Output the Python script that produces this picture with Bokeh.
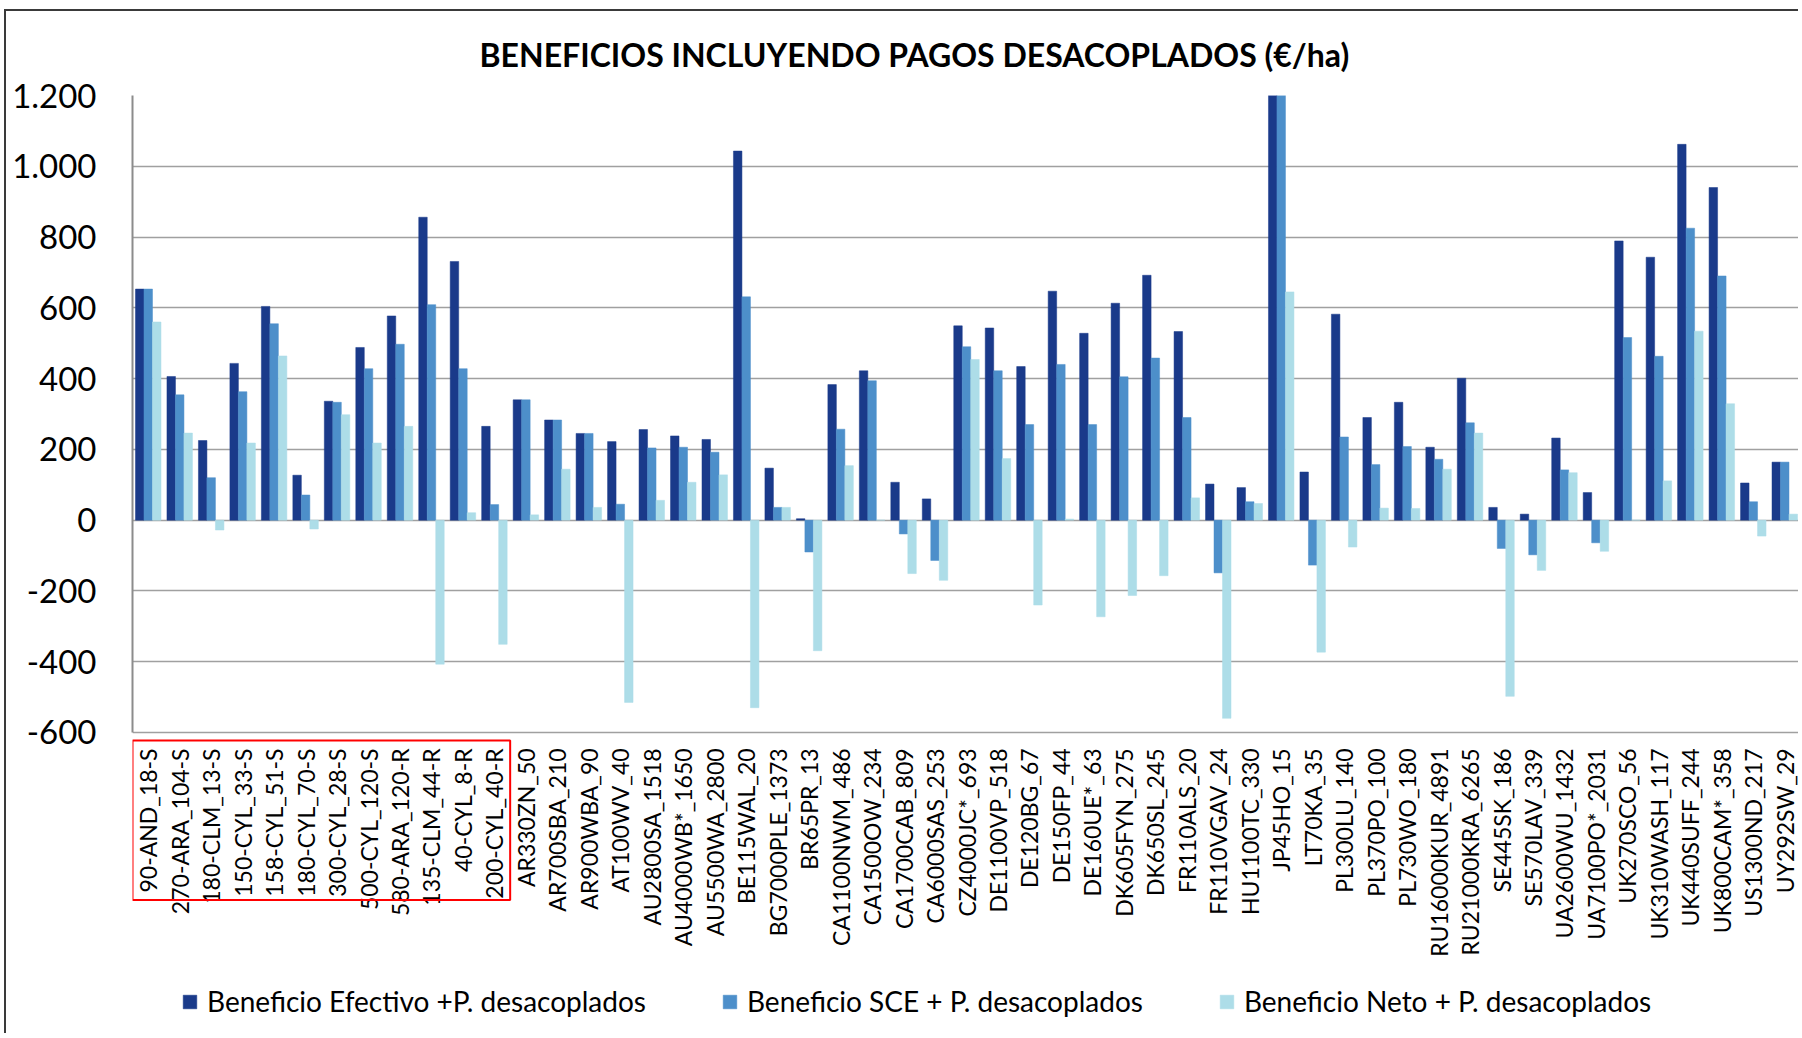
import math
from bokeh.plotting import figure
from bokeh.models import (ColumnDataSource, Range1d, FixedTicker, Legend, LegendItem,
                          BoxAnnotation)
from bokeh.core.properties import value
from bokeh.transform import dodge
from bokeh.embed import file_html
from bokeh.resources import INLINE

explotaciones = [
    "90-AND_18-S", "270-ARA_104-S", "180-CLM_13-S", "150-CYL_33-S", "158-CYL_51-S",
    "180-CYL_70-S", "300-CYL_28-S", "500-CYL_120-S", "580-ARA_120-R", "135-CLM_44-R",
    "40-CYL_8-R", "200-CYL_40-R", "AR330ZN_50", "AR700SBA_210", "AR900WBA_90",
    "AT100WV_40", "AU2800SA_1518", "AU4000WB*_1650", "AU5500WA_2800", "BE115WAL_20",
    "BG7000PLE_1373", "BR65PR_13", "CA1100NWM_486", "CA1500OW_234", "CA1700CAB_809",
    "CA6000SAS_253", "CZ4000JC*_693", "DE1100VP_518", "DE120BG_67", "DE150FP_44",
    "DE160UE*_63", "DK605FYN_275", "DK650SL_245", "FR110ALS_20", "FR110VGAV_24",
    "HU1100TC_330", "JP45HO_15", "LT70KA_35", "PL300LU_140", "PL370PO_100",
    "PL730WO_180", "RU16000KUR_4891", "RU21000KRA_6265", "SE445SK_186", "SE570LAV_339",
    "UA2600WU_1432", "UA7100PO*_2031", "UK270SCO_56", "UK310WASH_117", "UK440SUFF_244",
    "UK800CAM*_358", "US1300ND_217", "UY292SW_29",
]

beneficio_efectivo = [
    653, 406, 225, 443, 604, 127, 336, 488, 577, 856, 731, 265,
    340, 283, 245, 222, 256, 238, 228, 1043, 147, 4, 383, 422, 107, 60,
    549, 543, 434, 647, 528, 613, 692, 533, 102, 92, 1300, 136, 582,
    290, 333, 206, 401, 36, 17, 232, 78, 789, 743, 1062, 940, 105, 164,
]
beneficio_sce = [
    653, 354, 120, 363, 555, 71, 333, 428, 497, 609, 428, 44,
    340, 283, 245, 45, 204, 206, 192, 631, 36, -90, 257, 394, -39, -114,
    490, 422, 270, 440, 270, 405, 458, 290, -149, 52, 1250, -127, 235,
    157, 208, 172, 275, -80, -98, 142, -64, 516, 463, 825, 690, 52, 164,
]
beneficio_neto = [
    560, 246, -28, 218, 464, -25, 298, 218, 265, -407, 21, -351,
    15, 144, 36, -515, 56, 107, 128, -530, 36, -369, 154, 0, -151, -170,
    454, 174, -240, 3, -273, -213, -157, 63, -560, 47, 645, -373, -76,
    34, 33, 144, 246, -498, -142, 134, -88, 0, 111, 534, 329, -45, 17,
]

series_names = [
    "Beneficio Efectivo +P. desacoplados",
    "Beneficio SCE + P. desacoplados",
    "Beneficio Neto + P. desacoplados",
]
series_colors = ["#1A3A8A", "#4D8FCA", "#ADDDE8"]

y_ticks = [-600, -400, -200, 0, 200, 400, 600, 800, 1000, 1200]
y_tick_labels = ["-600", "-400", "-200", "0", "200", "400", "600", "800", "1.000", "1.200"]
n_espana = 12

title_text = "BENEFICIOS INCLUYENDO PAGOS DESACOPLADOS (€/ha)"

FONT = "Lato"

# ---- layout (pixels) ----
W, H = 1794, 1024
BORDER_LEFT, BORDER_TOP = 126, 81
VALUE_PX = 639                      # pixel height of the value area (-600 .. 1200)
frame_h = H - BORDER_TOP
y_min, y_max = y_ticks[0], y_ticks[-1]
upp = (y_max - y_min) / VALUE_PX    # data units per pixel
y_start = y_max - frame_h * upp     # frame extends below the value area (labels, legend)

def px_below(px):
    return y_min - px * upp

idx = list(range(len(explotaciones)))
src = ColumnDataSource(dict(
    x=idx,
    efectivo=beneficio_efectivo,
    sce=beneficio_sce,
    neto=beneficio_neto,
    label=explotaciones,
    label_y=[px_below(16)] * len(idx),
))

p = figure(
    width=W, height=H,
    output_backend="svg", toolbar_location=None,
    x_range=Range1d(-0.5, len(explotaciones) - 0.5),
    y_range=Range1d(y_start, y_max),
    x_axis_location=None,
    min_border_left=BORDER_LEFT, min_border_right=0, min_border_top=BORDER_TOP,
    min_border_bottom=0,
    background_fill_color="white", border_fill_color="white",
    outline_line_color=None,
)
p.styles = {
    "margin-left": "4px", "margin-top": "9px",
    "border-left": "2px solid #3A3A3A", "border-top": "2px solid #3A3A3A",
}

p.title.text = title_text
p.title.text_font = FONT
p.title.text_font_style = "bold"
p.title.text_font_size = "32px"
p.title.text_color = "black"
p.title.align = "left"
p.title.offset = 347
p.title.standoff = 43

bw = 0.27
offsets = [-bw, 0.0, bw]
fields = ["efectivo", "sce", "neto"]
renderers = []
for f, off, col in zip(fields, offsets, series_colors):
    r = p.vbar(x=dodge("x", off), top=f, bottom=0, width=bw, source=src,
               fill_color=col, line_color=col, line_width=0.5)
    renderers.append(r)

# y axis
yax = p.yaxis[0]
yax.ticker = FixedTicker(ticks=y_ticks)
yax.bounds = (y_min, y_max)
yax.major_label_overrides = {t: l for t, l in zip(y_ticks, y_tick_labels)}
yax.major_label_text_font = FONT
yax.major_label_text_font_size = "33px"
yax.major_label_text_color = "black"
yax.major_label_standoff = 36
yax.major_tick_out = 0
yax.major_tick_in = 0
yax.minor_tick_out = 0
yax.minor_tick_in = 0
yax.axis_line_color = "#8C8C8C"
yax.axis_line_width = 2

for g in p.grid:
    if g.dimension == 0:
        g.visible = False
    else:
        g.ticker = FixedTicker(ticks=y_ticks)
        g.grid_line_color = "#A0A0A0"
        g.grid_line_width = 1.5

# category labels (vertical, below the value area)
p.text(x="x", y="label_y", text="label", source=src, angle=math.pi / 2,
       text_align="right", text_baseline="middle",
       text_font=value(FONT), text_font_size="23px", text_color="black")

# highlight of the Spanish farms
box = BoxAnnotation(left=-0.5, right=n_espana - 0.5, top=px_below(8), bottom=px_below(168),
                    fill_color=None, fill_alpha=0, line_color="#FF0000", line_alpha=1.0,
                    line_width=2)
p.add_layout(box)

legend = Legend(
    items=[LegendItem(label=n, renderers=[r]) for n, r in zip(series_names, renderers)],
    orientation="horizontal",
    location=(49, 17),
    label_text_font=FONT, label_text_font_size="28px", label_text_color="black",
    glyph_width=17, glyph_height=17, label_standoff=9, spacing=75,
    border_line_color=None, background_fill_alpha=0, padding=0, margin=0,
)
p.add_layout(legend)

open("out.html", "w").write(file_html(p, INLINE))
